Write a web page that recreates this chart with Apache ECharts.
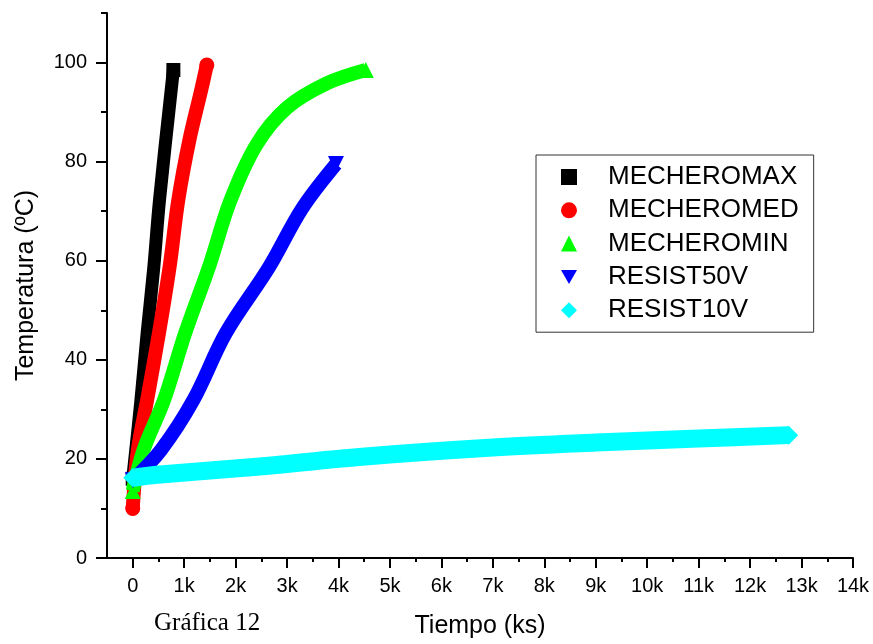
<!DOCTYPE html>
<html>
<head>
<meta charset="utf-8">
<script src="https://cdn.jsdelivr.net/npm/echarts@6/dist/echarts.min.js"></script>
<style>html,body{margin:0;padding:0;background:#fff}#c{width:873px;height:644px}</style>
</head>
<body>
<div id="c"></div>
<script>
// Series names
const seriesNames = ['MECHEROMAX', 'MECHEROMED', 'MECHEROMIN', 'RESIST50V', 'RESIST10V'];

// Time (s) and temperature (ºC)
const maxTime = [0, 160, 280, 410, 520, 790];
const maxTemp = [16, 31.9, 45.4, 58.7, 72.2, 98.5];

const medTime = [0, 100, 280, 510, 720, 885, 1100, 1330, 1440];
const medTemp = [10, 21.8, 31.9, 45.4, 59, 72.2, 84.3, 94.4, 99.5];

const minTime = [0, 210, 610, 1020, 1490, 1900, 2410, 3000, 3770, 4530];
const minTemp = [13.5, 21.8, 31.9, 45.4, 59, 72.2, 83.5, 90.9, 95.8, 98.5];

const r50Time = [0, 550, 1180, 1810, 2650, 3290, 3950];
const r50Temp = [15.7, 21.8, 31.9, 45.4, 58.7, 70.5, 79.5];

const r10Time = [0, 470, 2410, 4400, 7000, 9000, 11000, 12750];
const r10Temp = [16.2, 16.8, 18.4, 20.4, 22.3, 23.3, 24.1, 24.8];

// Axis ticks
const xMajorTicks = [0, 1000, 2000, 3000, 4000, 5000, 6000, 7000, 8000, 9000, 10000, 11000, 12000, 13000, 14000];
const xMinorTicks = [500, 1500, 2500, 3500, 4500, 5500, 6500, 7500, 8500, 9500, 10500, 11500, 12500, 13500];
const yMajorTicks = [0, 20, 40, 60, 80, 100];
const yMinorTicks = [10, 30, 50, 70, 90, 110];

const colors = ['#000000', '#ff0000', '#00ff00', '#0000ff', '#00ffff'];
const symbols = ['rect', 'circle', 'triangle', 'triangle', 'diamond'];
const symbolRot = [0, 0, 0, 180, 0];
const symbolSizes = [14, 15, 16, 16, 19];
const lineWidths = [13, 14, 14, 14, 18];

// markers only at the two ends of each trace (the thick line is the dense marker trail)
function pairs(t, v, size) {
  return t.map((x, i) => ({ value: [x, v[i]], symbolSize: (i === 0 || i === t.length - 1) ? size : 0 }));
}
const timeArrs = [maxTime, medTime, minTime, r50Time, r10Time];
const tempArrs = [maxTemp, medTemp, minTemp, r50Temp, r10Temp];

const font = '"Liberation Sans", Arial, sans-serif';
const chart = echarts.init(document.getElementById('c'), null, { renderer: 'canvas' });

const xRange = { min: -500, max: 14000 };
const yRange = { min: 0, max: 110 };

chart.setOption({
  animation: false,
  backgroundColor: '#ffffff',
  title: {
    text: 'Gráfica 12', left: 154, top: 611, padding: 0,
    textStyle: { fontFamily: '"Liberation Serif", "Times New Roman", serif', fontSize: 25, fontWeight: 'normal', color: '#000' }
  },
  grid: { left: 107, right: 20, top: 13, bottom: 86, containLabel: false },
  xAxis: [
    {
      type: 'value', ...xRange, position: 'bottom',
      name: 'Tiempo (ks)', nameLocation: 'middle', nameGap: 56,
      nameTextStyle: { fontFamily: font, fontSize: 25, color: '#000' },
      axisLine: { show: true, onZero: false, lineStyle: { color: '#000', width: 2 } },
      axisTick: { show: true, customValues: xMajorTicks, length: 10, inside: false, lineStyle: { color: '#000', width: 2 } },
      axisLabel: { show: true, customValues: xMajorTicks, margin: 18, fontFamily: font, fontSize: 20, color: '#000',
        formatter: v => v === 0 ? '0' : (v / 1000) + 'k' },
      splitLine: { show: false }
    },
    {
      type: 'value', ...xRange, position: 'bottom',
      axisLine: { show: false, onZero: false },
      axisTick: { show: true, customValues: xMinorTicks, length: 4, inside: false, lineStyle: { color: '#000', width: 2 } },
      axisLabel: { show: false },
      splitLine: { show: false }
    }
  ],
  yAxis: [
    {
      type: 'value', ...yRange, position: 'left',
      name: 'Temperatura (ºC)', nameLocation: 'middle', nameGap: 68, nameRotate: 90,
      nameTextStyle: { fontFamily: font, fontSize: 25, color: '#000' },
      axisLine: { show: true, onZero: false, lineStyle: { color: '#000', width: 2 } },
      axisTick: { show: true, customValues: yMajorTicks, length: 11, inside: false, lineStyle: { color: '#000', width: 2 } },
      axisLabel: { show: true, customValues: yMajorTicks, margin: 20, fontFamily: font, fontSize: 20, color: '#000' },
      splitLine: { show: false }
    },
    {
      type: 'value', ...yRange, position: 'left',
      axisLine: { show: false, onZero: false },
      axisTick: { show: true, customValues: yMinorTicks, length: 6, inside: false, lineStyle: { color: '#000', width: 2 } },
      axisLabel: { show: false },
      splitLine: { show: false }
    }
  ],
  legend: {
    orient: 'vertical', left: 536, top: 155,
    padding: [9, 15, 9, 25],
    itemWidth: 16, itemHeight: 16, itemGap: 7.3,
    borderColor: '#333', borderWidth: 1, borderRadius: 0,
    backgroundColor: '#fff',
    textStyle: { fontFamily: font, fontSize: 26, color: '#000', lineHeight: 26, padding: [0, 0, 0, 26] },
    data: seriesNames.map((n, i) => ({
      name: n,
      icon: i === 3 ? 'path://M0,0 L16,0 L8,14 Z' : symbols[i],
      itemStyle: { color: colors[i] }
    }))
  },
  series: seriesNames.map((n, i) => ({
    name: n, type: 'line', xAxisIndex: 0, yAxisIndex: 0,
    data: pairs(timeArrs[i], tempArrs[i], symbolSizes[i]),
    smooth: 0.35,
    showSymbol: true, symbol: symbols[i], symbolSize: symbolSizes[i], symbolRotate: symbolRot[i],
    itemStyle: { color: colors[i] },
    lineStyle: { color: colors[i], width: lineWidths[i], cap: i === 1 ? 'round' : 'butt', join: 'round' },
    emphasis: { disabled: true },
    z: 2 + i
  }))
});
</script>
</body>
</html>
